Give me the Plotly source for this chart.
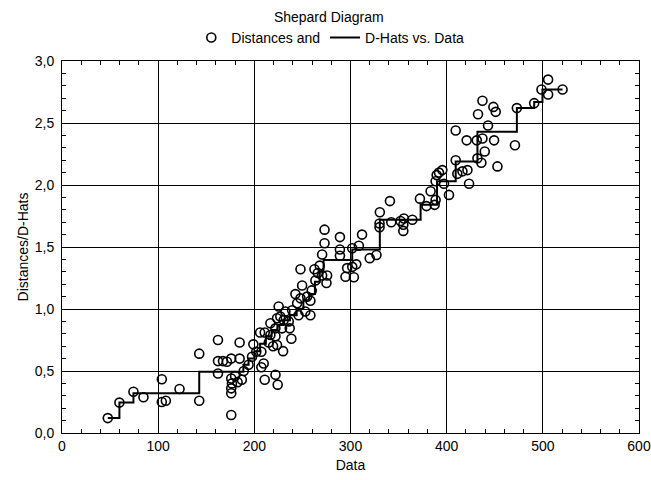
import plotly.graph_objects as go

# Observed points: Data (x) vs Distances (y)
data_vals = [
    47.6, 59.7, 74.3, 84.7, 103.8, 103.8, 108.0, 122.2, 142.7, 142.7,
    162.2, 162.2, 162.2, 167.4, 171.5, 176.0, 176.0, 176.7, 176.0, 176.0,
    176.0, 184.7, 184.7, 180.0, 182.6, 187.0, 189.0, 194.0, 197.6, 199.0,
    202.0, 206.0, 207.3, 209.7, 207.3, 210.8, 210.8, 215.0, 216.7, 222.0,
    223.6, 222.0, 224.3, 225.3, 223.6,
    273.0, 273.0, 270.5, 248.0, 268.0, 266.0, 270.5, 275.0, 263.5, 249.7,
    259.7, 242.7, 248.0, 254.9, 258.3, 244.5, 232.3, 239.3, 246.0, 253.0,
    258.3, 227.0, 230.5, 235.8, 221.9, 228.8, 236.8, 216.7, 238.5, 219.5,
    229.9,
    341.0, 330.5, 330.2, 330.2, 342.4, 352.0, 355.5, 354.9, 354.9, 289.0,
    289.0, 289.0, 312.0, 301.8, 308.7, 306.0, 327.0, 320.0, 301.8, 296.5,
    294.8, 303.5, 262.5, 275.7, 364.3,
    372.2, 383.3, 379.0, 387.5, 388.5, 388.5, 389.6, 392.0, 395.5, 397.2,
    402.4, 409.4, 411.1, 416.4, 421.6, 423.3, 409.4, 420.8, 431.3, 437.2,
    449.3, 432.0, 436.1, 439.6, 452.8, 437.2, 432.6, 448.6, 451.0, 443.0,
    473.0, 491.0, 498.6, 505.5, 505.5, 520.5, 471.0,
]
distances = [
    0.12, 0.245, 0.333, 0.288, 0.433, 0.25, 0.26, 0.355, 0.26, 0.64,
    0.75, 0.58, 0.48, 0.58, 0.575, 0.60, 0.44, 0.40, 0.36, 0.32,
    0.145, 0.73, 0.60, 0.46, 0.41, 0.43, 0.50, 0.55, 0.615, 0.715,
    0.655, 0.81, 0.655, 0.56, 0.53, 0.43, 0.81, 0.73, 0.885, 0.78,
    0.925, 0.47, 0.39, 1.02, 0.71,
    1.64, 1.53, 1.44, 1.32, 1.35, 1.29, 1.27, 1.21, 1.23, 1.19,
    1.15, 1.12, 1.086, 1.10, 1.067, 1.046, 0.98, 0.99, 0.95, 0.98,
    0.95, 0.94, 0.91, 0.90, 0.844, 0.844, 0.844, 0.79, 0.76, 0.70,
    0.66,
    1.87, 1.78, 1.69, 1.66, 1.70, 1.71, 1.73, 1.68, 1.63, 1.58,
    1.48, 1.43, 1.60, 1.49, 1.51, 1.36, 1.435, 1.41, 1.34, 1.33,
    1.26, 1.256, 1.32, 1.27, 1.72,
    1.89, 1.95, 1.83, 1.84, 1.88, 2.03, 2.08, 2.10, 2.12, 2.01,
    1.92, 2.20, 2.09, 2.11, 2.12, 2.01, 2.44, 2.36, 2.36, 2.375,
    2.36, 2.215, 2.18, 2.27, 2.15, 2.68, 2.57, 2.63, 2.59, 2.48,
    2.62, 2.66, 2.77, 2.85, 2.73, 2.77, 2.32,
]

# D-Hats step function (level starting at each breakpoint)
dhat_x = [47.6, 59.7, 74.3, 142.7, 188.6, 194, 200, 206, 212, 218, 224, 230, 237,
          244, 251, 257, 263, 268, 272, 301.8, 330.5, 372.9, 390, 409.4, 432,
          473, 491, 499.6, 520.5]
dhat_y = [0.12, 0.245, 0.32, 0.494, 0.55, 0.60, 0.66, 0.72, 0.78, 0.83, 0.87, 0.91,
          0.95, 1.00, 1.07, 1.12, 1.22, 1.30, 1.395, 1.48, 1.72, 1.84, 2.03, 2.19,
          2.43, 2.62, 2.67, 2.77, 2.77]

x_ticks = [0, 100, 200, 300, 400, 500, 600]
y_ticks = [0.0, 0.5, 1.0, 1.5, 2.0, 2.5, 3.0]

FONT = "Liberation Sans, Arial, sans-serif"
FS = 14

fig = go.Figure()
fig.add_trace(go.Scatter(
    x=data_vals, y=distances, mode="markers", name="Distances and",
    marker=dict(symbol="circle-open", size=9, color="black", line=dict(width=1.6, color="black")),
))
fig.add_trace(go.Scatter(
    x=dhat_x, y=dhat_y, mode="lines", name="D-Hats vs. Data",
    line=dict(color="black", width=2, shape="hv"),
))

axis_common = dict(
    showline=True, linecolor="black", linewidth=1, mirror="ticks",
    showgrid=True, gridcolor="black", gridwidth=1,
    ticks="inside", ticklen=4, tickcolor="black",
    zeroline=False, automargin=False,
    tickfont=dict(family=FONT, size=FS, color="black"),
)

fig.update_xaxes(
    range=[0, 600], tickvals=x_ticks,
    minor=dict(dtick=20, ticks="inside", ticklen=4, tickcolor="black", showgrid=False),
    title=dict(text="Data", font=dict(family=FONT, size=FS, color="black"), standoff=7),
    **axis_common,
)
fig.update_yaxes(
    range=[0, 3], tickvals=y_ticks, tickformat=".1f", ticklabelstandoff=4,
    minor=dict(dtick=0.1, ticks="inside", ticklen=4, tickcolor="black", showgrid=False),
    title=dict(text="Distances/D-Hats", font=dict(family=FONT, size=FS, color="black"), standoff=2),
    **axis_common,
)

fig.update_layout(
    width=651, height=480,
    margin=dict(l=62, r=12, t=61, b=47),
    separators=", ",
    paper_bgcolor="white", plot_bgcolor="white",
    font=dict(family=FONT, size=FS, color="black"),
    title=dict(text="Shepard Diagram", x=0.505, xanchor="center", y=0.965, yanchor="middle",
               font=dict(family=FONT, size=FS, color="black")),
    showlegend=True,
    legend=dict(orientation="h", x=0.465, xanchor="center", y=1.062, yanchor="middle",
                font=dict(family=FONT, size=FS, color="black"),
                itemwidth=30, bgcolor="rgba(0,0,0,0)", traceorder="normal"),
)

fig.write_html("out.html")
